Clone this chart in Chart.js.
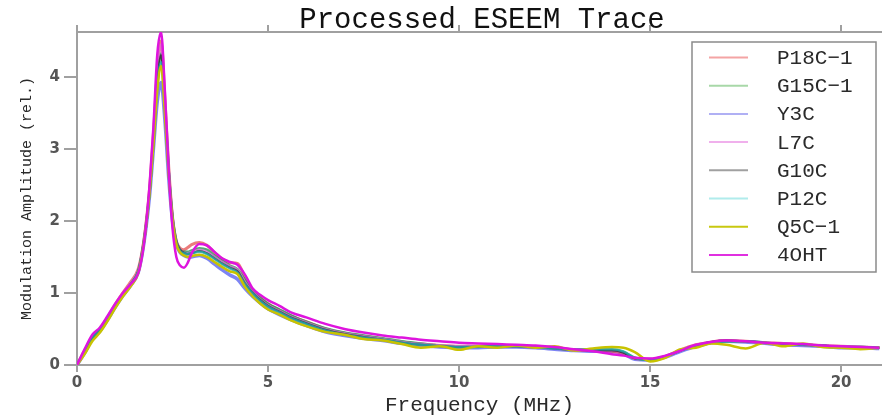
<!DOCTYPE html>
<html>
<head>
<meta charset="utf-8">
<script src="https://cdn.jsdelivr.net/npm/chart.js@4.4.1/dist/chart.umd.min.js"></script>
<style>
  html, body { margin: 0; padding: 0; background: #ffffff; }
  #wrap { width: 882px; height: 418px; }
</style>
</head>
<body>
<div id="wrap"><canvas id="c" width="882" height="418"></canvas></div>
<script>
// ---- data ----
const TITLE = "Processed ESEEM Trace";
const X_TITLE = "Frequency (MHz)";
const Y_TITLE = "Modulation Amplitude (rel.)";
const SERIES_NAMES = ["P18C\u22121", "G15C\u22121", "Y3C", "L7C", "G10C", "P12C", "Q5C\u22121", "4OHT"];
const X_TICKS = [0, 5, 10, 15, 20];
const Y_TICKS = [0, 1, 2, 3, 4];

const FREQ = [0,0.2,0.4,0.6,0.8,1.0,1.2,1.4,1.6,1.7,1.8,1.9,2.0,2.1,2.2,2.3,2.4,2.5,2.6,2.7,2.8,2.9,3.0,3.2,3.4,3.6,3.8,4.0,4.2,4.4,4.6,4.8,5.0,5.3,5.6,6.0,6.5,7.0,7.5,8.0,8.5,9.0,9.5,10,10.5,11,11.5,12,12.5,13,13.5,14,14.3,14.6,15,15.4,15.8,16.2,16.6,17,17.5,18,18.5,19,19.5,20,20.5,21];

const P18C_1 = [0,0.2,0.39,0.5,0.66,0.84,1.0,1.15,1.33,1.56,1.93,2.45,3.2,4.05,4.5,3.7,2.75,2.05,1.72,1.62,1.6,1.63,1.67,1.7,1.66,1.56,1.47,1.42,1.41,1.22,1.04,0.93,0.85,0.76,0.68,0.6,0.5,0.44,0.4,0.36,0.32,0.29,0.27,0.26,0.26,0.27,0.26,0.25,0.24,0.21,0.2,0.19,0.16,0.09,0.08,0.12,0.21,0.28,0.32,0.34,0.33,0.31,0.3,0.28,0.27,0.26,0.25,0.24];
const G15C_1 = [0,0.18,0.37,0.48,0.64,0.81,0.97,1.11,1.29,1.54,1.9,2.4,3.1,3.9,4.32,3.6,2.7,2.05,1.72,1.6,1.57,1.57,1.59,1.62,1.6,1.52,1.45,1.38,1.33,1.18,1.03,0.93,0.85,0.77,0.69,0.6,0.51,0.45,0.41,0.37,0.33,0.3,0.27,0.25,0.26,0.27,0.26,0.25,0.23,0.21,0.21,0.21,0.18,0.1,0.07,0.12,0.2,0.27,0.31,0.33,0.33,0.31,0.29,0.28,0.27,0.25,0.25,0.24];
const Y3C = [0,0.17,0.36,0.47,0.63,0.8,0.96,1.1,1.28,1.52,1.88,2.35,3.0,3.65,3.92,3.4,2.6,2.0,1.68,1.56,1.52,1.5,1.5,1.52,1.48,1.4,1.32,1.25,1.19,1.06,0.95,0.86,0.78,0.7,0.63,0.55,0.46,0.41,0.37,0.34,0.3,0.27,0.25,0.24,0.24,0.25,0.25,0.24,0.22,0.2,0.19,0.19,0.16,0.08,0.07,0.11,0.19,0.26,0.31,0.33,0.32,0.3,0.28,0.27,0.26,0.24,0.24,0.23];
const L7C = [0,0.2,0.4,0.5,0.66,0.83,0.99,1.13,1.31,1.56,1.93,2.45,3.15,4.0,4.45,3.7,2.75,2.05,1.72,1.6,1.56,1.55,1.57,1.6,1.57,1.5,1.43,1.37,1.32,1.15,1.01,0.91,0.83,0.75,0.67,0.59,0.5,0.44,0.4,0.36,0.32,0.29,0.27,0.26,0.26,0.26,0.26,0.25,0.23,0.21,0.2,0.2,0.17,0.09,0.08,0.12,0.2,0.27,0.32,0.34,0.33,0.31,0.29,0.28,0.27,0.25,0.25,0.24];
const G10C = [0,0.19,0.38,0.49,0.65,0.82,0.98,1.12,1.30,1.55,1.92,2.42,3.1,3.9,4.3,3.6,2.7,2.05,1.72,1.6,1.56,1.54,1.55,1.58,1.55,1.48,1.41,1.35,1.3,1.13,1.0,0.9,0.82,0.74,0.66,0.58,0.49,0.43,0.39,0.35,0.31,0.28,0.26,0.25,0.25,0.26,0.26,0.25,0.23,0.21,0.2,0.2,0.17,0.09,0.08,0.12,0.2,0.27,0.32,0.34,0.33,0.31,0.29,0.28,0.27,0.25,0.25,0.24];
const P12C = [0,0.19,0.38,0.49,0.65,0.82,0.98,1.12,1.3,1.54,1.9,2.4,3.05,3.85,4.2,3.55,2.68,2.03,1.7,1.58,1.55,1.54,1.55,1.57,1.54,1.47,1.4,1.34,1.28,1.12,0.99,0.89,0.81,0.73,0.65,0.57,0.48,0.42,0.38,0.35,0.31,0.28,0.26,0.25,0.25,0.26,0.26,0.25,0.23,0.22,0.22,0.22,0.19,0.1,0.07,0.12,0.2,0.27,0.31,0.33,0.33,0.31,0.29,0.28,0.27,0.25,0.25,0.24];
const Q5C_1 = [0,0.15,0.33,0.45,0.61,0.79,0.95,1.09,1.27,1.52,1.9,2.4,3.05,3.8,4.15,3.5,2.65,2.02,1.68,1.56,1.52,1.5,1.51,1.53,1.5,1.43,1.36,1.3,1.26,1.08,0.95,0.85,0.77,0.7,0.62,0.54,0.46,0.42,0.36,0.34,0.29,0.24,0.26,0.21,0.26,0.24,0.27,0.24,0.26,0.2,0.23,0.25,0.24,0.18,0.05,0.1,0.22,0.24,0.3,0.28,0.23,0.31,0.26,0.3,0.25,0.24,0.22,0.24];
const OHT4 = [0,0.22,0.42,0.52,0.68,0.85,1.0,1.12,1.27,1.5,1.9,2.5,3.3,4.3,4.62,3.8,2.7,1.9,1.5,1.38,1.35,1.42,1.55,1.68,1.66,1.57,1.48,1.43,1.39,1.25,1.06,0.97,0.9,0.82,0.73,0.66,0.57,0.5,0.45,0.41,0.38,0.35,0.33,0.31,0.3,0.29,0.28,0.27,0.25,0.22,0.19,0.15,0.13,0.1,0.09,0.13,0.2,0.28,0.32,0.34,0.33,0.31,0.3,0.29,0.27,0.26,0.25,0.24];

const SERIES_VALUES = [P18C_1, G15C_1, Y3C, L7C, G10C, P12C, Q5C_1, OHT4];

// ---- styles ----
const LINE_COLORS = ["rgba(228,80,80,0.75)", "rgba(40,150,80,0.8)", "rgba(70,80,240,0.7)", "rgba(220,110,220,0.7)",
                     "rgba(40,40,40,0.75)", "rgba(30,170,170,0.8)", "rgb(200,195,0)", "rgb(222,20,222)"];
const LEGEND_COLORS = ["#f4a4a4", "#a8d8a8", "#b0b0f4", "#f0b0ec", "#a0a0a0", "#b0ecec", "#c8c810", "#e030e0"];
const LINE_WIDTHS = [3, 2.5, 3.5, 2.5, 2, 2.5, 2.5, 2.5];
const DRAW_ORDER = [8, 7, 9, 6, 5, 4, 2, 1];
const X_MAX = 21.07, Y_MAX = 4.62;

const datasets = SERIES_NAMES.map((name, i) => ({
  label: name,
  data: FREQ.map((f, j) => ({ x: f, y: SERIES_VALUES[i][j] })),
  borderColor: LINE_COLORS[i],
  backgroundColor: LINE_COLORS[i],
  borderWidth: LINE_WIDTHS[i],
  pointRadius: 0,
  fill: false,
  cubicInterpolationMode: 'monotone',
  order: DRAW_ORDER[i]
}));

const decorPlugin = {
  id: 'decor',
  afterDraw(chart) {
    const ctx = chart.ctx;
    ctx.save();
    // title
    ctx.fillStyle = '#111';
    ctx.font = '29px "Liberation Mono"';
    ctx.textAlign = 'center';
    ctx.textBaseline = 'alphabetic';
    ctx.fillText(TITLE, 482, 28);
    // legend box
    const bx = 692, by = 42, bw = 184, bh = 230;
    ctx.fillStyle = '#fff';
    ctx.fillRect(bx, by, bw, bh);
    ctx.strokeStyle = '#8a8a8a';
    ctx.lineWidth = 1.5;
    ctx.strokeRect(bx, by, bw, bh);
    ctx.font = '21px "Liberation Mono"';
    ctx.textAlign = 'left';
    ctx.textBaseline = 'middle';
    chart.data.datasets.forEach((ds, i) => {
      const y = 57.5 + i * 28.2;
      ctx.strokeStyle = LEGEND_COLORS[i];
      ctx.lineWidth = 2;
      ctx.beginPath();
      ctx.moveTo(709, y);
      ctx.lineTo(748, y);
      ctx.stroke();
      ctx.fillStyle = '#2a2a2a';
      ctx.fillText(ds.label, 777, y + 1);
    });
    ctx.restore();
  }
};

new Chart(document.getElementById('c'), {
  type: 'line',
  data: { datasets },
  options: {
    responsive: false,
    animation: false,
    devicePixelRatio: 1,
    layout: { padding: { top: 32, left: 0, right: 0, bottom: 0 } },
    plugins: {
      legend: { display: false },
      title: { display: false },
      tooltip: { enabled: false }
    },
    scales: {
      x: {
        type: 'linear',
        position: 'bottom',
        min: 0,
        max: X_MAX,
        afterFit: s => { s.height = 53; },
        afterBuildTicks: s => { s.ticks = X_TICKS.map(v => ({ value: v })); },
        grid: { drawOnChartArea: false, drawTicks: true, tickLength: 7, color: '#a0a0a0', lineWidth: 2 },
        border: { display: true, color: '#a0a0a0', width: 2 },
        ticks: { font: { family: '"DejaVu Sans"', size: 15, weight: 'bold' }, color: '#555', padding: 2, maxRotation: 0 },
        title: { display: true, text: X_TITLE, font: { family: '"Liberation Mono"', size: 21 }, color: '#2a2a2a', padding: { top: 0, bottom: 0 } }
      },
      x2: {
        type: 'linear',
        position: 'top',
        min: 0,
        max: X_MAX,
        afterFit: s => { s.height = 0; },
        afterBuildTicks: s => { s.ticks = X_TICKS.map(v => ({ value: v })); },
        grid: { drawOnChartArea: false, drawTicks: true, tickLength: 7, color: '#a0a0a0', lineWidth: 2 },
        border: { display: true, color: '#a0a0a0', width: 2 },
        ticks: { display: false }
      },
      y: {
        type: 'linear',
        min: 0,
        max: Y_MAX,
        afterFit: s => { s.width = 77; },
        afterBuildTicks: s => { s.ticks = Y_TICKS.map(v => ({ value: v })); },
        grid: { drawOnChartArea: false, drawTicks: true, tickLength: 13, color: '#a0a0a0', lineWidth: 2 },
        border: { display: true, color: '#a0a0a0', width: 2 },
        ticks: { font: { family: '"DejaVu Sans"', size: 15, weight: 'bold' }, color: '#555', padding: 4 },
        title: { display: true, text: Y_TITLE, font: { family: '"Liberation Mono"', size: 15 }, color: '#2a2a2a', padding: { top: 18, bottom: 0 } }
      }
    }
  },
  plugins: [decorPlugin]
});
</script>
</body>
</html>
